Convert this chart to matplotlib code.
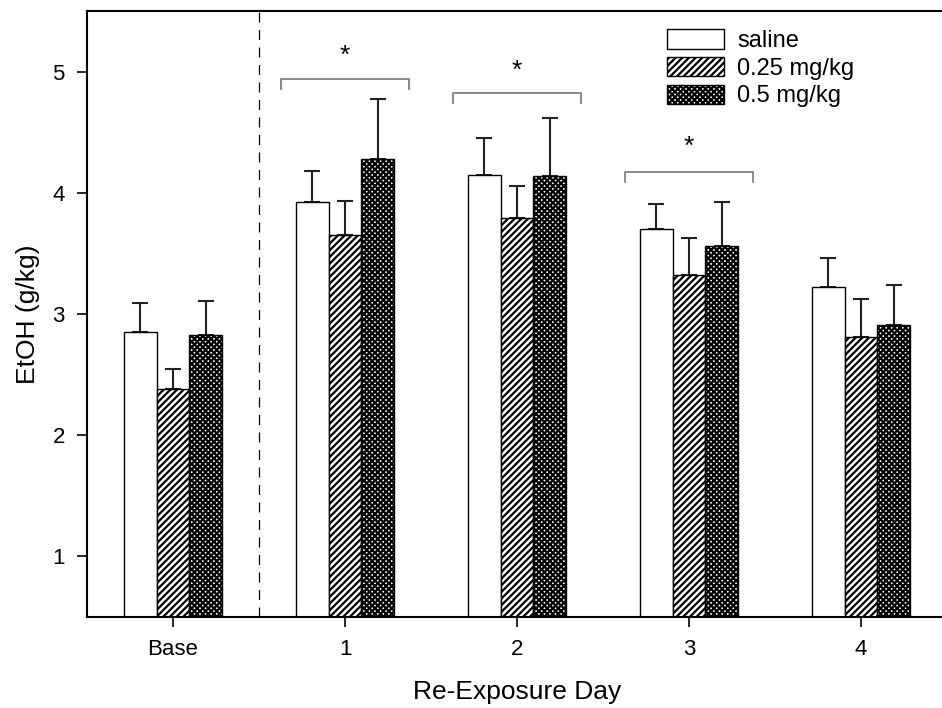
import matplotlib.pyplot as plt
import matplotlib.patches as mpatches
import numpy as np

plt.rcParams['font.family'] = ['Liberation Sans', 'DejaVu Sans']
plt.rcParams['hatch.linewidth'] = 1.6

days = ["Base", "1", "2", "3", "4"]
groups = ["saline", "0.25 mg/kg", "0.5 mg/kg"]

saline = [2.85, 3.92, 4.15, 3.70, 3.22]
saline_err = [0.24, 0.26, 0.30, 0.21, 0.24]
low = [2.38, 3.65, 3.79, 3.32, 2.81]
low_err = [0.17, 0.28, 0.27, 0.31, 0.31]
high = [2.83, 4.28, 4.14, 3.56, 2.91]
high_err = [0.28, 0.49, 0.48, 0.36, 0.33]

# significance brackets: (day index, bracket height, star height)
brackets = [(1, 4.94, 5.13), (2, 4.82, 5.01), (3, 4.17, 4.38)]

fig = plt.figure(figsize=(9.42, 7.08), dpi=100)
ax = fig.add_axes([0.0924, 0.1285, 0.913, 0.856])

x = np.arange(len(days))
w = 0.19
styles = [dict(facecolor="white", hatch=None),
          dict(facecolor="white", hatch="/////"),
          dict(facecolor="white", hatch="xxxxxx")]
series = [(saline, saline_err), (low, low_err), (high, high_err)]

for i, ((vals, errs), st) in enumerate(zip(series, styles)):
    pos = x + (i - 1) * w
    ax.bar(pos, vals, w, edgecolor="black", linewidth=1.0, zorder=2, **st)
    ax.errorbar(pos, vals, yerr=[np.zeros(len(vals)), errs], fmt="none",
                ecolor="#222222", elinewidth=1.5, capsize=6, capthick=1.5, zorder=1)

ax.axvline(0.5, color="black", linestyle=(0, (8, 6)), linewidth=0.9)

for d, h, s in brackets:
    ax.plot([d - 0.37, d - 0.37, d + 0.37, d + 0.37], [h - 0.08, h, h, h - 0.08],
            color="#777777", linewidth=1.2)
    ax.text(d, s, "*", ha="center", va="center", fontsize=19)

ax.set_xlim(-0.5, 4.5)
ax.set_ylim(0.5, 5.5)
ax.set_xticks(x)
ax.set_xticklabels(days)
ax.set_yticks([1, 2, 3, 4, 5])
ax.tick_params(direction="out", length=7, width=1.2, labelsize=16, pad=9)
for sp in ax.spines.values():
    sp.set_linewidth(1.5)

ax.set_ylabel("EtOH (g/kg)", fontsize=19, labelpad=9)
ax.set_xlabel("Re-Exposure Day", fontsize=19, labelpad=14)

handles = [mpatches.Patch(edgecolor="black", linewidth=1.0, **st) for st in styles]
ax.legend(handles, groups, loc="upper left", bbox_to_anchor=(0.65, 1.005),
          frameon=False, fontsize=17, handlelength=2.4, handleheight=0.9,
          handletextpad=0.55, labelspacing=0.2)

fig.savefig("out.png", dpi=100)
